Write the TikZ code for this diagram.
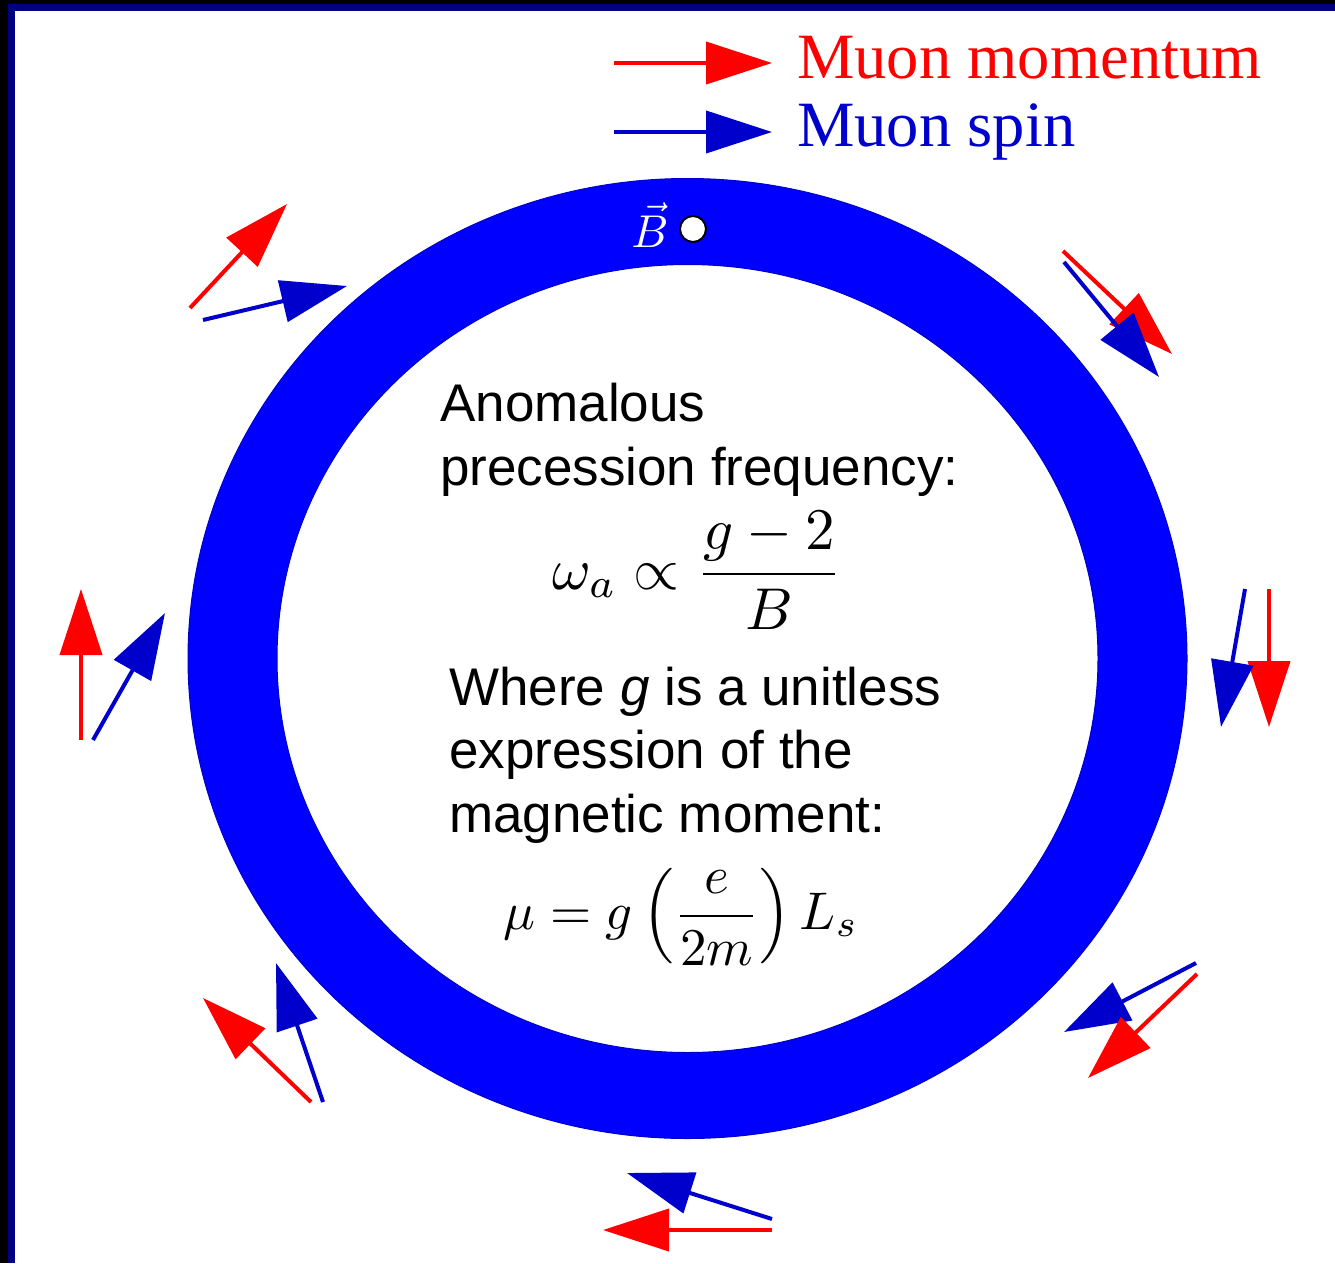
\documentclass[tikz,border=0pt]{standalone}
\usepackage{graphicx}
\usepackage{amsmath}
\usepackage{fontspec}
\setmainfont{Liberation Serif}
\newfontfamily\arialfont{Liberation Sans}
\usetikzlibrary{arrows.meta}
\definecolor{navyframe}{RGB}{0,0,128}
\definecolor{ringblue}{RGB}{0,0,255}
\definecolor{ringedge}{RGB}{0,0,200}
\definecolor{arrblue}{RGB}{0,0,204}
\definecolor{arrred}{RGB}{255,0,0}
\tikzset{
  mom/.style={draw=arrred, fill=arrred, line width=4pt, -{Triangle[length=66pt,width=42pt]}},
  spin/.style={draw=arrblue, fill=arrblue, line width=4pt, -{Triangle[length=66pt,width=42pt]}},
  legendtext/.style={anchor=base west, inner sep=0pt, font=\fontsize{64.6}{70}\selectfont},
  bodytext/.style={anchor=base west, inner sep=0pt, font=\arialfont\fontsize{53}{64}\selectfont},
  mathtext/.style={anchor=base, inner sep=0pt, font=\fontsize{10}{12}\selectfont},
}
\begin{document}
\begin{tikzpicture}[x=1pt,y=-1pt]
\useasboundingbox (0,0) rectangle (1335,1263);
% frame
\fill[black] (0,0) rectangle (1335,1263);
\fill[navyframe] (8,4) rectangle (1335,1263);
\fill[white] (15,11) rectangle (1335,1263);
% ring
\fill[ringblue, even odd rule] (687.5,658.5) ellipse [x radius=499.5, y radius=480]
  (687.5,658.5) ellipse [x radius=410.5, y radius=394];
\draw[ringedge, line width=1pt] (687.5,658.5) ellipse [x radius=499.5, y radius=480];
\draw[ringedge, line width=1pt] (687.5,658.5) ellipse [x radius=410.5, y radius=394];
% B field marker
\node[text=white, inner sep=0pt, anchor=base, font=\fontsize{10}{12}\selectfont] (bvec) at (650,247) {\scalebox{4.6}{$\vec{B}$}};
\node[circle, draw=black, fill=white, line width=2pt, minimum size=26pt, inner sep=0pt] (bdot) at (693,229) {};
% legend
\coordinate (lm1) at (614,63);  \coordinate (lm2) at (772,63);
\coordinate (ls1) at (614,132); \coordinate (ls2) at (772,132);
\draw[mom] (lm1) -- (lm2);
\draw[spin] (ls1) -- (ls2);
\node[legendtext, text=arrred] (legmom) at (797,78) {Muon momentum};
\node[legendtext, text=arrblue] (legspin) at (797,146) {Muon spin};
% arrow pairs around the ring
\coordinate (r1a) at (190,308);  \coordinate (r1b) at (287,204);
\coordinate (b1a) at (203,320);  \coordinate (b1b) at (347,286);
\coordinate (r2a) at (1063,251); \coordinate (r2b) at (1172,354);
\coordinate (b2a) at (1064,262); \coordinate (b2b) at (1159,377);
\coordinate (r3a) at (81,740);   \coordinate (r3b) at (81,589);
\coordinate (b3a) at (93,740);   \coordinate (b3b) at (165,613);
\coordinate (r4a) at (1269,589); \coordinate (r4b) at (1269,727);
\coordinate (b4a) at (1245,589); \coordinate (b4b) at (1221,727);
\coordinate (r5a) at (311,1102); \coordinate (r5b) at (203,998);
\coordinate (b5a) at (323,1102); \coordinate (b5b) at (276,963);
\coordinate (r6a) at (1197,974); \coordinate (r6b) at (1088,1078);
\coordinate (b6a) at (1196,963); \coordinate (b6b) at (1064,1032);
\coordinate (r7a) at (772,1230); \coordinate (r7b) at (603,1230);
\coordinate (b7a) at (772,1219); \coordinate (b7b) at (627,1173);
\draw[mom] (r1a) -- (r1b); \draw[spin] (b1a) -- (b1b);
\draw[mom] (r2a) -- (r2b); \draw[spin] (b2a) -- (b2b);
\draw[mom] (r3a) -- (r3b); \draw[spin] (b3a) -- (b3b);
\draw[mom] (r4a) -- (r4b); \draw[spin] (b4a) -- (b4b);
\draw[mom] (r5a) -- (r5b); \draw[spin] (b5a) -- (b5b);
\draw[spin] (b6a) -- (b6b); \draw[mom] (r6a) -- (r6b);
\draw[spin] (b7a) -- (b7b); \draw[mom] (r7a) -- (r7b);
% central text
\node[bodytext] (t1) at (440,421) {Anomalous};
\node[bodytext] (t2) at (440,485) {precession frequency:};
\node[mathtext] (f1) at (697,589) {\scalebox{5.9}{$\displaystyle \omega_a \propto \frac{g-2}{B}$}};
\node[bodytext] (t3) at (449,705) {Where \emph{g} is a unitless};
\node[bodytext] (t4) at (449,768) {expression of the};
\node[bodytext] (t5) at (449,832) {magnetic moment:};
\node[mathtext] (f2) at (681,929) {\scalebox{5.3}{$\displaystyle \mu = g\left(\frac{e}{2m}\right)L_s$}};
\end{tikzpicture}
\end{document}
